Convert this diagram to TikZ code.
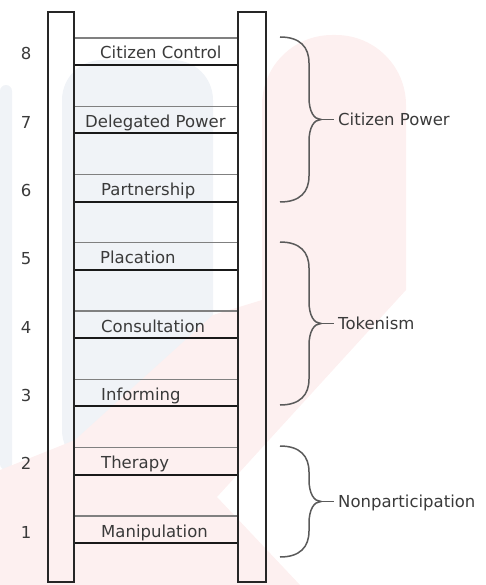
\documentclass[tikz,border=0pt]{standalone}
\usepackage{fontspec}
\setmainfont{DejaVu Sans}
\usetikzlibrary{positioning}

\definecolor{railgray}{HTML}{262626}
\definecolor{textgray}{HTML}{3A3A3A}
\definecolor{bracegray}{HTML}{5A5A5A}
\definecolor{rungthin}{HTML}{808080}
\definecolor{wmblue}{HTML}{F0F3F7}
\definecolor{wmpink}{HTML}{FDF0F0}

\begin{document}
\begin{tikzpicture}[x=1pt, y=-1pt,
	rail/.style={draw=railgray, line width=2pt, minimum height=570pt, inner sep=0pt},
	rungtop/.style={draw=rungthin, line width=1.3pt},
	rungbot/.style={draw=black!90, line width=2pt},
	rungtext/.style={anchor=base west, inner sep=0pt, text=textgray, font=\fontsize{16.5}{18}\selectfont},
	numtext/.style={anchor=base, inner sep=0pt, text=textgray, font=\fontsize{16.5}{18}\selectfont},
	brace/.style={draw=bracegray, line width=1.5pt},
	grouptext/.style={anchor=base west, inner sep=0pt, text=textgray, font=\fontsize{16.5}{18}\selectfont}]
	\useasboundingbox (0,0) rectangle (485,585);

	% faint watermark in the background
	\fill[wmblue, rounded corners=6] (0,470) -- (0,85) -- (12,85) -- (12,470) -- cycle;
	\fill[wmblue, rounded corners=40] (62,470) -- (62,60) -- (213,60) -- (213,470) -- cycle;
	\fill[wmpink] (213,315) -- (262,300) [rounded corners=70] -- (262,35) -- (406,35) [sharp corners] -- (406,290)
		-- (217,497) -- (300,585) -- (0,585) -- (0,470) -- (75,440) -- cycle;

	% the two rails
	\node[rail, minimum width=26pt] (leftrail) at (61,297) {};
	\node[rail, minimum width=28pt] (rightrail) at (252,297) {};

	% rungs with their names and numbers
	\foreach \k/\txt/\tx in {1/Manipulation/101, 2/Therapy/101, 3/Informing/101, 4/Consultation/101,
			5/Placation/100, 6/Partnership/101, 7/Delegated Power/85, 8/Citizen Control/100} {
		\pgfmathsetmacro\yb{543-(\k-1)*68.3}
		\draw[rungtop] (leftrail.east |- 0,\yb-27) -- (rightrail.west |- 0,\yb-27);
		\draw[rungbot] (leftrail.east |- 0,\yb) -- (rightrail.west |- 0,\yb);
		\node[rungtext] (r\k) at (\tx,\yb-6) {\txt};
		\node[numtext] (n\k) at (26,\yb-5) {\k};
	}

	% braces for the three groups
	\foreach \name/\top/\bot/\txt in {cp/37/202/Citizen Power, tk/242/405/Tokenism, np/446/557/Nonparticipation} {
		\pgfmathsetmacro\mid{(\top+\bot)/2}
		\coordinate (\name tip) at (321,\mid);
		\coordinate (\name tick) at (334,\mid);
		\draw[brace] (280,\top) .. controls (300,\top) and (309,\top+10) .. (309,\top+26)
			-- (309,\mid-22) .. controls (309,\mid-8) and (314,\mid) .. (\name tip)
			.. controls (314,\mid) and (309,\mid+8) .. (309,\mid+22)
			-- (309,\bot-26) .. controls (309,\bot-10) and (300,\bot) .. (280,\bot);
		\draw[brace] (\name tip) -- (\name tick);
		\node[grouptext] (\name) at (338,\mid+6) {\txt};
	}
\end{tikzpicture}
\end{document}
